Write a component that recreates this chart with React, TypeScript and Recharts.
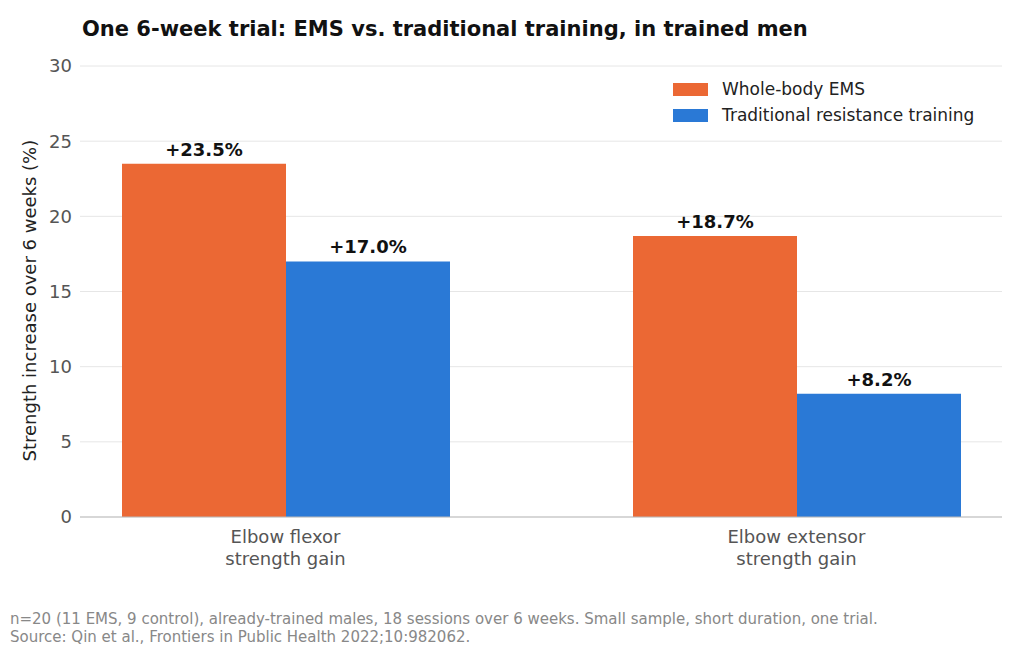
import { Bar, BarChart, CartesianGrid, LabelList, XAxis, YAxis } from "recharts";

const CATEGORIES = ["Elbow flexor\nstrength gain", "Elbow extensor\nstrength gain"];
const EMS = [23.5, 18.7];
const TRADITIONAL = [17.0, 8.2];
const Y_TICKS = [0, 5, 10, 15, 20, 25, 30];

const ORANGE = "#EB6834";
const BLUE = "#2A79D6";
const FONT = "DejaVu Sans, sans-serif";

const data = CATEGORIES.map((c, i) => ({ name: c, ems: EMS[i], trad: TRADITIONAL[i] }));

const CatTick = (props: any) => {
  const { x, y, payload } = props;
  const lines = String(payload.value).split("\n");
  return (
    <text x={x} y={y + 2} textAnchor="middle" fill="#555" fontSize={18} fontFamily={FONT}>
      {lines.map((l, i) => (
        <tspan key={i} x={x} dy={i === 0 ? 16 : 22}>
          {l}
        </tspan>
      ))}
    </text>
  );
};

const fmt = (v: any) => `+${Number(v).toFixed(1)}%`;

export default function App() {
  document.body.style.margin = "0";
  return (
    <div style={{ position: "relative", width: 1024, height: 654, background: "#fff", fontFamily: FONT }}>
      <div style={{ position: "absolute", left: 82, top: 17, fontSize: 21, fontWeight: "bold", color: "#111" }}>
        One 6-week trial: EMS vs. traditional training, in trained men
      </div>
      <BarChart
        width={1024}
        height={654}
        data={data}
        margin={{ top: 66, right: 22, bottom: 107, left: 0 }}
        barCategoryGap={92}
        barGap={0}
      >
        <CartesianGrid vertical={false} stroke="#e6e6e6" />
        <XAxis
          dataKey="name"
          height={30}
          tick={<CatTick />}
          tickLine={false}
          axisLine={{ stroke: "#bbb" }}
          padding={{ left: -50, right: -50 }}
          interval={0}
        />
        <YAxis
          width={80}
          domain={[0, 30]}
          ticks={Y_TICKS}
          axisLine={false}
          tickLine={false}
          tick={{ fill: "#555", fontSize: 18, fontFamily: FONT }}
          label={{
            value: "Strength increase over 6 weeks (%)",
            angle: -90,
            position: "insideLeft",
            offset: 30,
            dy: 170,
            style: { fill: "#222", fontSize: 18, fontFamily: FONT },
          }}
        />
        <Bar dataKey="ems" fill={ORANGE} isAnimationActive={false}>
          <LabelList dataKey="ems" position="top" formatter={fmt} offset={8} style={{ fill: "#111", fontSize: 18, fontWeight: "bold", fontFamily: FONT }} />
        </Bar>
        <Bar dataKey="trad" fill={BLUE} isAnimationActive={false}>
          <LabelList dataKey="trad" position="top" formatter={fmt} offset={8} style={{ fill: "#111", fontSize: 18, fontWeight: "bold", fontFamily: FONT }} />
        </Bar>
      </BarChart>
      <div style={{ position: "absolute", left: 673, top: 76, fontSize: 17, color: "#222" }}>
        {[["Whole-body EMS", ORANGE], ["Traditional resistance training", BLUE]].map(([t, c]) => (
          <div key={t} style={{ display: "flex", alignItems: "center", height: 26 }}>
            <span style={{ width: 35, height: 13, background: c, marginRight: 14, display: "inline-block" }} />
            {t}
          </div>
        ))}
      </div>
      <div style={{ position: "absolute", left: 10, top: 610, fontSize: 15, color: "#888", lineHeight: "18px" }}>
        n=20 (11 EMS, 9 control), already-trained males, 18 sessions over 6 weeks. Small sample, short duration, one trial.
        <br />
        Source: Qin et al., Frontiers in Public Health 2022;10:982062.
      </div>
    </div>
  );
}
